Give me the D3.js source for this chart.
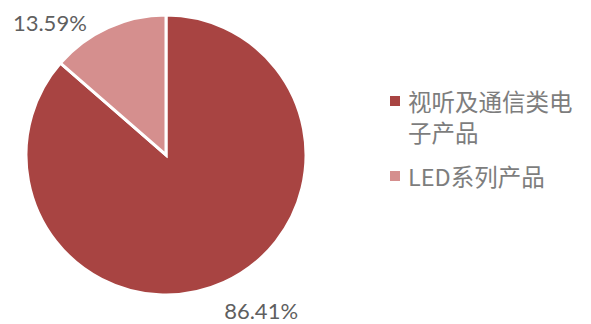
<!DOCTYPE html>
<html>
<head>
<meta charset="utf-8">
<script src="https://cdn.jsdelivr.net/npm/d3@7"></script>
<style>
  html, body { margin: 0; padding: 0; background: #ffffff; }
  svg { display: block; }
</style>
</head>
<body>
<svg id="chart" width="591" height="324"></svg>
<script>
// Revenue share by product line
const categories = ["视听及通信类电子产品", "LED系列产品"];
const shares = [86.41, 13.59];
const shareLabels = ["86.41%", "13.59%"];
const colors = ["#A84442", "#D58F8E"];

const svg = d3.select("#chart");
const cx = 166, cy = 155, radius = 140;

const pie = d3.pie().sort(null).value(d => d.value).startAngle(0).endAngle(2 * Math.PI);
const data = categories.map((c, i) => ({ name: c, value: shares[i], label: shareLabels[i], color: colors[i] }));
const arcs = pie(data);

const arc = d3.arc().innerRadius(0).outerRadius(radius);

const g = svg.append("g").attr("transform", `translate(${cx},${cy})`);

g.selectAll("path.slice")
  .data(arcs)
  .join("path")
  .attr("class", "slice")
  .attr("d", arc)
  .attr("fill", d => d.data.color)
  .attr("stroke", "#ffffff")
  .attr("stroke-width", 3)
  .attr("stroke-linejoin", "miter");

// Data labels placed outside the pie, in polar terms (angle from 12 o'clock, radius)
const labelPlacement = [
  { angle: 148.5, r: 182 },
  { angle: -41.3, r: 176 }
];

g.selectAll("text.pct")
  .data(arcs)
  .join("text")
  .attr("class", "pct")
  .attr("x", (d, i) => labelPlacement[i].r * Math.sin(labelPlacement[i].angle * Math.PI / 180))
  .attr("y", (d, i) => -labelPlacement[i].r * Math.cos(labelPlacement[i].angle * Math.PI / 180))
  .attr("text-anchor", "middle")
  .attr("dominant-baseline", "central")
  .attr("font-family", "Lato, 'Open Sans', sans-serif")
  .attr("font-size", 22)
  .attr("fill", "#5f5f5f")
  .text(d => d.data.label);

// Legend
const legend = svg.append("g").attr("transform", "translate(390,0)");
const legendFont = "'Noto Sans CJK SC', Lato, sans-serif";
const legendMaxWidth = 180;
const lineHeight = 31;
let yPos = 101;

data.forEach((d, i) => {
  const item = legend.append("g");
  item.append("rect")
    .attr("x", 0)
    .attr("y", yPos - 5)
    .attr("width", 10)
    .attr("height", 10)
    .attr("fill", d.color);

  const text = item.append("text")
    .attr("x", 18)
    .attr("y", yPos)
    .attr("dominant-baseline", "central")
    .attr("font-family", legendFont)
    .attr("font-size", 23.5)
    .attr("fill", "#7d7d7d");

  // wrap character by character to fit the legend width
  const chars = Array.from(d.name);
  let line = "";
  let tspan = text.append("tspan").attr("x", 18).attr("dy", 0);
  let lines = 1;
  chars.forEach(ch => {
    tspan.text(line + ch);
    if (tspan.node().getComputedTextLength() > legendMaxWidth && line.length > 0) {
      tspan.text(line);
      line = ch;
      tspan = text.append("tspan").attr("x", 18).attr("dy", lineHeight).text(ch);
      lines++;
    } else {
      line += ch;
    }
  });
  yPos += (lines - 1) * lineHeight + 44;
});
</script>
</body>
</html>
